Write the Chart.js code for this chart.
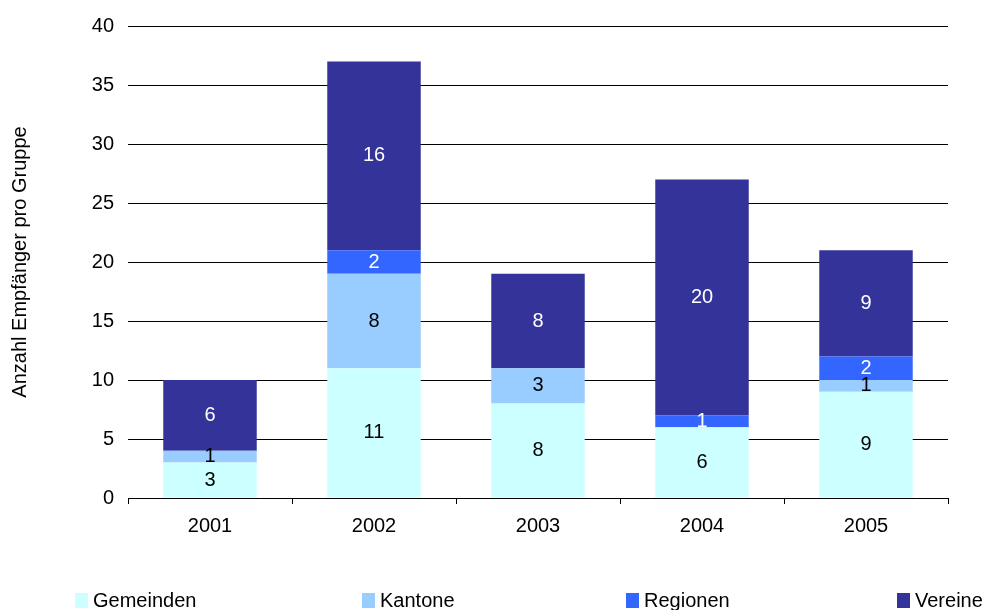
<!DOCTYPE html>
<html>
<head>
<meta charset="utf-8">
<script src="https://cdn.jsdelivr.net/npm/chart.js@4.4.0/dist/chart.umd.min.js"></script>
<style>
  html, body { margin: 0; padding: 0; background: #fff; }
  #wrap { width: 994px; height: 610px; }
</style>
</head>
<body>
<div id="wrap"><canvas id="chart" width="994" height="610"></canvas></div>
<script>
(function () {
    'use strict';

    var YEARS     = ['2001', '2002', '2003', '2004', '2005'];
    var GEMEINDEN = [3, 11, 8, 6, 9];
    var KANTONE   = [1, 8, 3, 0, 1];
    var REGIONEN  = [0, 2, 0, 1, 2];
    var VEREINE   = [6, 16, 8, 20, 9];

    var SERIES = ['Gemeinden', 'Kantone', 'Regionen', 'Vereine'];
    var COLORS = ['#ccffff', '#99ccff', '#3366ff', '#333399'];
    var LABEL_COLORS = ['#000', '#000', '#fff', '#fff'];
    var LEGEND_X = [75, 362, 626, 897];

    var FONT = '"Liberation Sans", Arial, sans-serif';
    Chart.defaults.font.family = FONT;
    Chart.defaults.font.size = 20;
    Chart.defaults.color = '#000';

    // value in the middle of each segment
    var segmentLabels = {
        id: 'segmentLabels',
        afterDatasetsDraw: function (chart) {
            var ctx = chart.ctx;
            ctx.save();
            ctx.font = '20px ' + FONT;
            ctx.textAlign = 'center';
            ctx.textBaseline = 'middle';
            chart.data.datasets.forEach(function (ds, i) {
                var meta = chart.getDatasetMeta(i);
                meta.data.forEach(function (bar, j) {
                    var v = ds.data[j];
                    if (!v) return;
                    ctx.fillStyle = LABEL_COLORS[i];
                    ctx.fillText(String(v), bar.x, (bar.y + bar.base) / 2);
                });
            });
            ctx.restore();
        }
    };

    // legend spread across the bottom
    var bottomLegend = {
        id: 'bottomLegend',
        afterDraw: function (chart) {
            var ctx = chart.ctx;
            ctx.save();
            ctx.font = '20px ' + FONT;
            ctx.textBaseline = 'alphabetic';
            ctx.textAlign = 'left';
            chart.data.datasets.forEach(function (ds, i) {
                var x = LEGEND_X[i];
                ctx.fillStyle = ds.backgroundColor;
                ctx.fillRect(x, 593, 13, 15);
                ctx.fillStyle = '#000';
                ctx.fillText(ds.label, x + 18, 607);
            });
            ctx.restore();
        }
    };

    var values = [GEMEINDEN, KANTONE, REGIONEN, VEREINE];

    new Chart(document.getElementById('chart'), {
        type: 'bar',
        data: {
            labels: YEARS,
            datasets: SERIES.map(function (name, i) {
                return {
                    label: name,
                    data: values[i],
                    backgroundColor: COLORS[i],
                    borderWidth: 0,
                    barPercentage: 0.57,
                    categoryPercentage: 1
                };
            })
        },
        options: {
            responsive: false,
            animation: false,
            layout: { padding: { top: 10, right: 46, bottom: 0, left: 0 } },
            plugins: {
                legend: { display: false },
                tooltip: { enabled: false }
            },
            scales: {
                x: {
                    stacked: true,
                    afterFit: function (axis) { axis.height = 112; },
                    border: { color: '#000', width: 1 },
                    grid: {
                        offset: true,
                        drawOnChartArea: false,
                        color: '#000',
                        tickLength: 6
                    },
                    ticks: { padding: 10 }
                },
                y: {
                    stacked: true,
                    min: 0,
                    max: 40,
                    afterFit: function (axis) { axis.width = 128; },
                    border: { display: false },
                    grid: { color: '#000', drawTicks: false },
                    ticks: { stepSize: 5, padding: 14 },
                    title: {
                        display: true,
                        text: 'Anzahl Empfänger pro Gruppe',
                        font: { size: 20 },
                        padding: { top: 8, bottom: 0 }
                    }
                }
            }
        },
        plugins: [segmentLabels, bottomLegend]
    });
}());
</script>
</body>
</html>
